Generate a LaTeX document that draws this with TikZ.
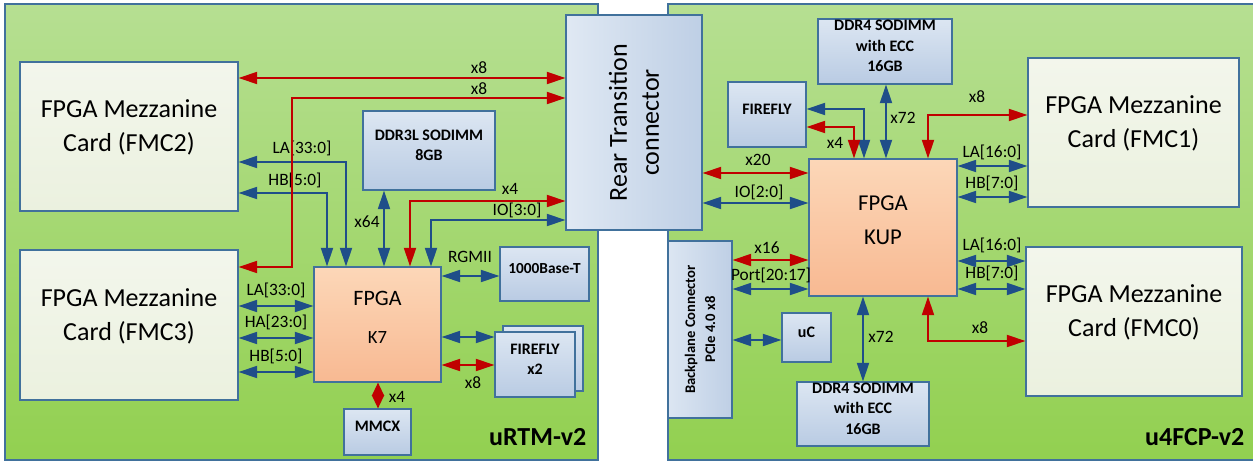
\documentclass[tikz,border=0pt]{standalone}
\usepackage{fontspec}
\setmainfont{Carlito}
\usepackage{xcolor}
\usetikzlibrary{arrows.meta}
\usetikzlibrary{fit}

\definecolor{boardtop}{HTML}{B6DF92}
\definecolor{boardbot}{HTML}{92D050}
\definecolor{rimblue}{HTML}{41719C}
\definecolor{chiptop}{HTML}{DCE6F2}
\definecolor{chipbot}{HTML}{B9CBE3}
\definecolor{fmctop}{HTML}{F3F6EC}
\definecolor{fmcbot}{HTML}{EBF1DF}
\definecolor{fpgatop}{HTML}{FCD7B8}
\definecolor{fpgabot}{HTML}{F8B992}
\definecolor{linkred}{HTML}{C00000}
\definecolor{linkblue}{HTML}{1F4E89}

\begin{document}
\begin{tikzpicture}[x=0.75pt,y=-0.75pt,
    >={Triangle[length=14pt,width=9pt]},
    board/.style={draw=rimblue,line width=0.8pt,top color=boardtop,bottom color=boardbot},
    chip/.style={draw=rimblue,line width=0.8pt,top color=chiptop,bottom color=chipbot,inner sep=0pt,align=center,font=\fontsize{12}{15.4}\selectfont\bfseries},
    fmc/.style={draw=rimblue,line width=0.8pt,top color=fmctop,bottom color=fmcbot,inner sep=0pt,align=center,font=\fontsize{19.5}{25.5}\selectfont},
    fpga/.style={draw=rimblue,line width=0.8pt,top color=fpgatop,bottom color=fpgabot,inner sep=0pt,align=center},
    redlink/.style={draw=linkred,line width=1.5pt,<->},
    bluelink/.style={draw=linkblue,line width=1.5pt,<->},
    lbl/.style={font=\fontsize{13}{15}\selectfont,inner sep=0pt}
]
    \useasboundingbox (0,0) rectangle (1253,463);

    % boards
    \draw[board] (5,4) rectangle (598,460);
    \draw[board] (668,4) rectangle (1262,460);
    \node[font=\fontsize{19.5}{22}\selectfont\bfseries,anchor=base east] (urtm) at (591,445) {uRTM-v2};
    \node[font=\fontsize{19.5}{22}\selectfont\bfseries,anchor=base east] (u4fcp) at (1249,445) {u4FCP-v2};

    % uRTM blocks
    \node[fmc,fit={(20,62) (238,211)}] (fmc2) {FPGA Mezzanine\\Card (FMC2)};
    \node[fmc,fit={(20,250) (238,400)}] (fmc3) {FPGA Mezzanine\\Card (FMC3)};
    \node[chip,fit={(363,111) (495,190)}] (ddr3) {DDR3L SODIMM\\8GB};
    \node[fpga,fit={(314,267) (441,382)},font=\fontsize{16.5}{28}\selectfont] (k7) {FPGA\\\fontsize{14}{28}\selectfont K7};
    \node[chip,fit={(500,247) (589,301)},font=\fontsize{11.5}{14}\selectfont\bfseries] (base) {1000Base-T};
    \node[chip,fit={(503,326) (583,391)}] (ffback) {};
    \node[chip,fit={(495,332) (575,397)}] (ffront) {FIREFLY\\x2};
    \node[chip,fit={(344,409) (411,455)}] (mmcx) {MMCX};

    % rear transition connector
    \node[draw=rimblue,line width=0.8pt,left color=chiptop!90!white,right color=chipbot!85!chiptop,inner sep=0pt,fit={(566,15) (702,230)}] (rtc) {};
    \node[rotate=90,align=center,font=\fontsize{19.5}{24}\selectfont] (rtctext) at (rtc.center) {Rear Transition\\connector};

    % u4FCP blocks
    \node[draw=rimblue,line width=0.8pt,left color=chiptop,right color=chipbot!85!chiptop,inner sep=0pt,fit={(668,241) (732,418)}] (bp) {};
    \node[rotate=90,align=center,font=\fontsize{11}{15}\selectfont\bfseries] (bptext) at (bp.center) {Backplane Connector\\PCIe 4.0 x8};
    \node[chip,fit={(728,82) (806,147)}] (ffr) {FIREFLY};
    \node[chip,fit={(782,313) (831,362)}] (uc) {uC};
    \node[chip,fit={(818,19) (952,84)}] (ddr4a) {DDR4 SODIMM\\with ECC\\16GB};
    \node[chip,fit={(797,382) (929,446)}] (ddr4b) {DDR4 SODIMM\\with ECC\\16GB};
    \node[fpga,fit={(809,159) (957,296)},font=\fontsize{17}{26}\selectfont] (kup) {FPGA\\KUP};
    \node[fmc,fit={(1028,58) (1239,207)}] (fmc1) {FPGA Mezzanine\\Card (FMC1)};
    \node[fmc,fit={(1026,247) (1242,396)}] (fmc0) {FPGA Mezzanine\\Card (FMC0)};

    % uRTM links
    \draw[bluelink] (fmc2.east |- 0,162) -| (k7.north -| 346,0);
    \node[lbl] (lla2) at (302,148) {LA[33:0]};
    \draw[bluelink] (fmc2.east |- 0,193) -| (k7.north -| 327,0);
    \node[lbl] (lhb2) at (295,180) {HB[5:0]};
    \draw[redlink] (fmc2.east |- 0,78) -- (rtc.west |- 0,78);
    \node[lbl] (lx8a) at (479,68) {x8};
    \draw[redlink] (fmc3.east |- 0,267) -| (292,98) -- (rtc.west |- 0,98);
    \node[lbl] (lx8b) at (479,89) {x8};
    \draw[bluelink] (ddr3.south -| 384,0) -- (k7.north -| 384,0);
    \node[lbl] (lx64) at (367,222) {x64};
    \draw[redlink] (k7.north -| 410,0) |- (rtc.west |- 0,201);
    \node[lbl] (lx4a) at (510,189) {x4};
    \draw[bluelink] (k7.north -| 431,0) |- (rtc.west |- 0,220);
    \node[lbl] (lio3) at (517,210) {IO[3:0]};
    \draw[bluelink] (k7.east |- 0,276) -- (base.west |- 0,276);
    \node[lbl] (lrgmii) at (470,257) {RGMII};
    \draw[bluelink] (k7.east |- 0,337) -- (ffront.west |- 0,337);
    \draw[redlink] (k7.east |- 0,365) -- (ffront.west |- 0,365);
    \node[lbl] (lx8c) at (473,383) {x8};
    \draw[redlink,>={Triangle[length=10pt,width=9pt]}] (k7.south -| 378,0) -- (mmcx.north -| 378,0);
    \node[lbl] (lx4b) at (397,397) {x4};
    \foreach \y/\t in {306/LA[33:0],338/HA[23:0],372/HB[5:0]}{
        \draw[bluelink] (fmc3.east |- 0,\y) -- (k7.west |- 0,\y);
        \node[lbl] (l3\y) at (276,\y-16) {\t};
    }

    % u4FCP links
    \draw[redlink] (rtc.east |- 0,173) -- (kup.west |- 0,173);
    \node[lbl] (lx20) at (758,160) {x20};
    \draw[bluelink] (rtc.east |- 0,203) -- (kup.west |- 0,203);
    \node[lbl] (lio2) at (759,192) {IO[2:0]};
    \draw[redlink] (bp.east |- 0,260) -- (kup.west |- 0,260);
    \node[lbl] (lx16) at (767,248) {x16};
    \draw[bluelink] (bp.east |- 0,289) -- (kup.west |- 0,289);
    \node[lbl] (lport) at (771,275) {Port[20:17]};
    \draw[bluelink] (bp.east |- 0,340) -- (uc.west |- 0,340);
    \draw[bluelink] (ffr.east |- 0,109) -| (kup.north -| 864,0);
    \draw[redlink] (ffr.east |- 0,127) -| (kup.north -| 854,0);
    \node[lbl] (lx4c) at (835,143) {x4};
    \draw[bluelink] (ddr4a.south -| 886,0) -- (kup.north -| 886,0);
    \node[lbl] (lx72a) at (903,118) {x72};
    \draw[bluelink] (kup.south -| 863,0) -- (ddr4b.north -| 863,0);
    \node[lbl] (lx72b) at (881,337) {x72};
    \draw[redlink] (kup.north -| 928,0) |- (fmc1.west |- 0,115);
    \node[lbl] (lx8d) at (977,97) {x8};
    \draw[redlink] (kup.south -| 928,0) |- (fmc0.west |- 0,341);
    \node[lbl] (lx8e) at (980,328) {x8};
    \foreach \y/\t in {166/LA[16:0],197/HB[7:0]}{
        \draw[bluelink] (kup.east |- 0,\y) -- (fmc1.west |- 0,\y);
        \node[lbl] (l1\y) at (992,\y-14) {\t};
    }
    \foreach \y/\t in {261/LA[16:0],289/HB[7:0]}{
        \draw[bluelink] (kup.east |- 0,\y) -- (fmc0.west |- 0,\y);
        \node[lbl] (l0\y) at (992,\y-16) {\t};
    }
\end{tikzpicture}
\end{document}
